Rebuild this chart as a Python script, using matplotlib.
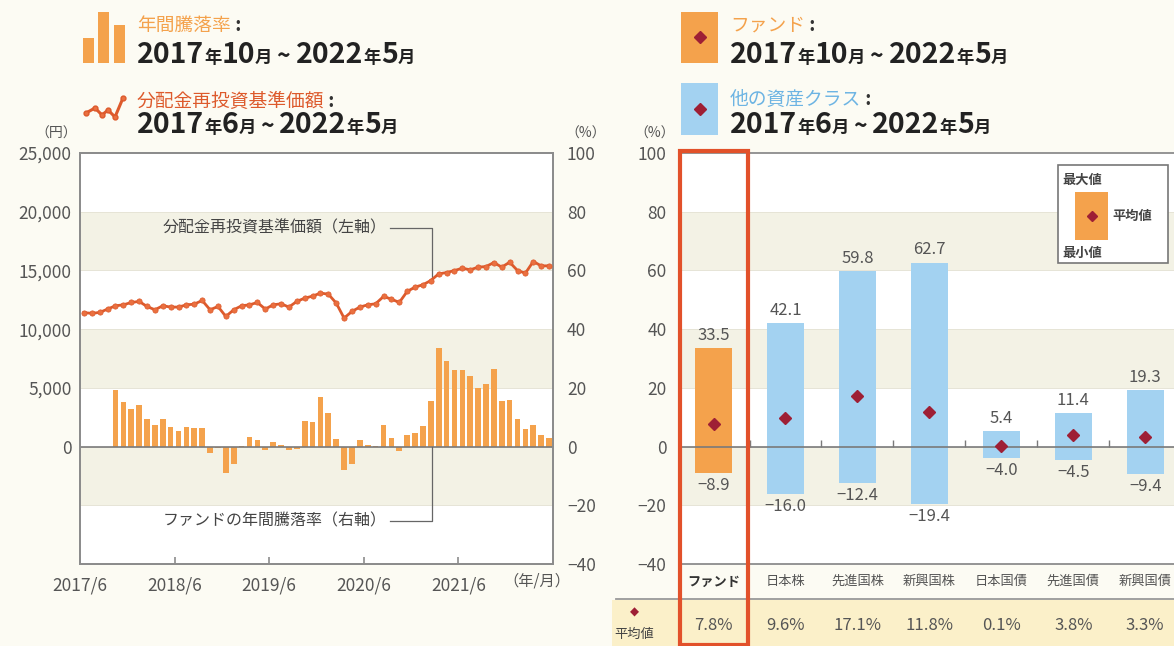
import numpy as np
import matplotlib.pyplot as plt
from matplotlib.patches import Rectangle
from matplotlib.lines import Line2D
import matplotlib.transforms as mtrans

plt.rcParams['font.family'] = ['Noto Sans CJK JP', 'DejaVu Sans']

# ---- データ ----
# 分配金再投資基準価額 (円), 2017/6 ~ 2022/5 の月次
nav = [11400, 11350, 11420, 11710, 11990, 12070, 12270, 12360, 11930, 11650,
       11990, 11880, 11880, 12070, 12130, 12440, 11650, 11930, 11080, 11650,
       11990, 12070, 12270, 11710, 12070, 12160, 11880, 12360, 12640, 12810,
       13070, 12980, 12220, 10940, 11510, 11880, 12070, 12160, 12780, 12560,
       12270, 13210, 13580, 13780, 14140, 14710, 14820, 14990, 15190, 15050,
       15280, 15330, 15670, 15280, 15700, 14990, 14770, 15760, 15390, 15390]
# ファンドの年間騰落率 (%), 2017/10 ~ 2022/5
fund_ret = [19.2, 15.3, 12.9, 14.3, 9.4, 7.5, 9.4, 6.7, 5.2, 6.7, 6.2, 6.2,
            -2.1, -0.6, -8.9, -5.8, 0.2, 3.2, 2.2, -1.0, 1.5, 0.5, -1.2, -0.8, 8.8,
            8.3, 16.8, 11.5, 2.6, -8.0, -5.8, 2.2, 0.5, 0.2, 7.5, 3.0, -1.6, 4.1,
            4.6, 6.9, 15.6, 33.5, 29.0, 26.0, 26.0, 24.1, 20.0, 21.4, 26.4, 15.4,
            16.0, 9.4, 6.1, 7.3, 4.1, 3.0]
year_ticks = ["2017/6", "2018/6", "2019/6", "2020/6", "2021/6"]

# 他の資産クラスとの比較 (%)
classes = ["ファンド", "日本株", "先進国株", "新興国株", "日本国債", "先進国債", "新興国債"]
max_vals = [33.5, 42.1, 59.8, 62.7, 5.4, 11.4, 19.3]
min_vals = [-8.9, -16.0, -12.4, -19.4, -4.0, -4.5, -9.4]
avg_vals = [7.8, 9.6, 17.1, 11.8, 0.1, 3.8, 3.3]

# ---- 色 ----
BG = '#fcfbf3'
BAND = '#f3f2e5'
ORANGE = '#f4a24c'
BLUE = '#a3d2f1'
LINE = '#dd5a2c'
DIAMOND = '#9e1f35'
GRAY = '#555555'
SPINE = '#8c8c8c'
RED = '#e2512a'

W, H = 1174, 646
fig = plt.figure(figsize=(W / 100, H / 100), dpi=100, facecolor=BG)


def fx(px):
    return px / W


def fy(py):
    return 1 - py / H


def rect_px(x0, y0, x1, y1, **kw):
    r = Rectangle((fx(x0), fy(y1)), fx(x1) - fx(x0), fy(y0) - fy(y1),
                  transform=fig.transFigure, **kw)
    fig.add_artist(r)
    return r


renderer = fig.canvas.get_renderer()


def runs(x, y, parts):
    # 文字サイズの違う文字列を横に並べる
    for s, size, color, weight in parts:
        t = fig.text(fx(x), fy(y), s, fontsize=size, color=color,
                     fontweight=weight, ha='left', va='baseline')
        x += t.get_window_extent(renderer).width


def date_parts(y1, m1, y2, m2):
    big, small, c = 20.5, 12.5, '#222222'
    return [(y1, big, c, 'bold'), ("年", small, c, 'bold'), (m1, big, c, 'bold'),
            ("月", small, c, 'bold'), (" ~ ", big * 0.8, c, 'bold'), (y2, big, c, 'bold'),
            ("年", small, c, 'bold'), (m2, big, c, 'bold'), ("月", small, c, 'bold')]


def label_parts(s, color):
    return [(s, 13.5, color, 'normal'), (" :", 13.5, '#333333', 'bold')]


# ---- 左のグラフ ----
ax = fig.add_axes([fx(80), fy(564), fx(553) - fx(80), (564 - 153) / H])
ax2 = ax.twinx()
ax.set_zorder(2)
ax2.set_zorder(1)
ax.patch.set_visible(False)
ax2.patch.set_visible(True)
ax2.set_facecolor('white')

ax.set_xlim(0, 60)
ax.set_ylim(-10000, 25000)
ax2.set_ylim(-40, 100)

for lo, hi in [(60, 80), (20, 40), (-20, 0)]:
    ax2.axhspan(lo, hi, color=BAND, lw=0, zorder=0)
for v in range(-20, 100, 20):
    ax2.axhline(v, color='#e6e4d6', lw=0.7, zorder=0.5)

months = np.arange(len(nav))
bar_x = np.arange(60 - len(fund_ret), 60) + 0.5
ax2.bar(bar_x, fund_ret, width=0.72, color=ORANGE, lw=0, zorder=2)
ax2.axhline(0, color='#7a7a7a', lw=1.2, zorder=3)

ax.plot(months + 0.5, nav, color=LINE, lw=2.0, marker='o', ms=3.8,
        mfc='#ea7040', mec=LINE, mew=0.5, zorder=3)

# 注記
ax.plot([39.3, 44.7, 44.7], [18600, 18600, 14350], color='#666666', lw=0.9)
ax.text(38.9, 18600, "分配金再投資基準価額（左軸）", fontsize=11.5, color='#444444',
        ha='right', va='center')
ax2.plot([39.3, 44.7, 44.7], [-25.5, -25.5, 0], color='#666666', lw=0.9, zorder=4)
ax2.text(38.9, -25.5, "ファンドの年間騰落率（右軸）", fontsize=11.5, color='#444444',
         ha='right', va='center', zorder=4)

ax.set_yticks(range(0, 25001, 5000))
ax.set_yticklabels([f"{v:,}" for v in range(0, 25001, 5000)])
ax2.set_yticks(range(-40, 101, 20))
ax2.set_yticklabels([str(v).replace('-', '−') for v in range(-40, 101, 20)])
ax.set_xticks([0, 12, 24, 36, 48])
ax.set_xticklabels(year_ticks)
ax.tick_params(axis='y', length=0, labelsize=12.5, labelcolor=GRAY, pad=6)
ax2.tick_params(axis='y', length=0, labelsize=12.5, labelcolor=GRAY, pad=10)
ax.tick_params(axis='x', direction='in', length=5, color=SPINE, width=1.2,
               labelsize=12.5, labelcolor=GRAY, pad=9)
for a in (ax, ax2):
    for s in a.spines.values():
        s.set_color(SPINE)
        s.set_linewidth(1.3)

fig.text(fx(537), fy(581), "（年/月）", fontsize=11, color=GRAY, ha='center', va='center')
fig.text(fx(56), fy(134), "（円）", fontsize=10, color=GRAY, ha='center', va='center')
fig.text(fx(586), fy(134), "（%）", fontsize=10, color=GRAY, ha='center', va='center')

# ---- 右のグラフ ----
rax = fig.add_axes([fx(679), fy(564), fx(1174) - fx(679), (564 - 153) / H])
rax.set_facecolor('white')
rax.set_xlim(-0.48, 6.4)
rax.set_ylim(-40, 100)
for lo, hi in [(60, 80), (20, 40), (-20, 0)]:
    rax.axhspan(lo, hi, color=BAND, lw=0, zorder=0)
for v in range(-20, 100, 20):
    rax.axhline(v, color='#e6e4d6', lw=0.7, zorder=0.5)

cx = np.arange(len(classes))
heights = np.array(max_vals) - np.array(min_vals)
rax.bar(cx, heights, bottom=min_vals, width=0.51,
        color=[ORANGE] + [BLUE] * (len(classes) - 1), lw=0, zorder=2)
rax.axhline(0, color='#7a7a7a', lw=1.2, zorder=3)
rax.vlines(cx[:-1] + 0.5, 0, 2.2, color='#7a7a7a', lw=1, zorder=3)
rax.plot(cx, avg_vals, 'D', color=DIAMOND, ms=6, zorder=4)

for xi, mx, mn in zip(cx, max_vals, min_vals):
    rax.annotate(f"{mx:.1f}", (xi, mx), xytext=(0, 3), textcoords='offset points',
                 ha='center', va='bottom', fontsize=12, color=GRAY)
    rax.annotate(f"{mn:.1f}".replace('-', '−'), (xi, mn), xytext=(0, -3),
                 textcoords='offset points', ha='center', va='top', fontsize=12, color=GRAY)

rax.set_xticks(cx)
rax.set_xticklabels(classes)
rax.tick_params(axis='x', length=0, labelsize=9.5, labelcolor=GRAY, pad=8)
rax.get_xticklabels()[0].set_fontweight('bold')
rax.get_xticklabels()[0].set_color('#333333')
rax.set_yticks(range(-40, 101, 20))
rax.set_yticklabels([str(v).replace('-', '−') for v in range(-40, 101, 20)])
rax.tick_params(axis='y', length=0, labelsize=12.5, labelcolor=GRAY, pad=9)
for k, s in rax.spines.items():
    s.set_color(SPINE)
    s.set_linewidth(1.3)
rax.spines['right'].set_visible(False)
fig.text(fx(655), fy(134), "（%）", fontsize=10, color=GRAY, ha='center', va='center')

# 凡例の枠
rect_px(1058, 165, 1168, 263, fc='white', ec='#777777', lw=1.2, zorder=5)
rect_px(1075, 192, 1108, 240, fc=ORANGE, ec='none', zorder=6)
fig.add_artist(Line2D([fx(1091.5)], [fy(216)], marker='D', color=DIAMOND, ms=5.5,
                      transform=fig.transFigure, zorder=7))
fig.text(fx(1062), fy(180), "最大値", fontsize=9.5, color='#444444', fontweight='bold',
         va='center', zorder=7)
fig.text(fx(1112), fy(216), "平均値", fontsize=9.5, color='#444444', fontweight='bold',
         va='center', zorder=7)
fig.text(fx(1062), fy(253), "最小値", fontsize=9.5, color='#444444', fontweight='bold',
         va='center', zorder=7)

# 平均値の表
rect_px(612, 600, 1174, 646, fc='#fbf0c9', ec='none', zorder=1)
fig.add_artist(Line2D([fx(616), fx(1174)], [fy(599), fy(599)], color='#999999', lw=1.3,
                      transform=fig.transFigure))
blend = mtrans.blended_transform_factory(rax.transData, fig.transFigure)
for xi, av in zip(cx, avg_vals):
    fig.text(xi, fy(625), f"{av:.1f}%", transform=blend, fontsize=12, color=GRAY,
             ha='center', va='center', zorder=3)
fig.text(fx(634), fy(612), "◆", fontsize=8.5, color=DIAMOND, ha='center', va='center',
         family=['DejaVu Sans'], zorder=3)
fig.text(fx(634), fy(634), "平均値", fontsize=9.5, color='#444444', ha='center',
         va='center', zorder=3)

# ファンド列の赤枠
red_box = Rectangle((-0.465, fy(646) + 0.002), 0.944, fy(151) - fy(646) - 0.002,
                    transform=blend, fill=False, ec=RED, lw=3, clip_on=False, zorder=10)
fig.add_artist(red_box)

# ---- 上部の凡例 ----
for x0, x1, top in [(83, 94, 38), (98, 109, 12), (114, 125, 25)]:
    rect_px(x0, top, x1, 63, fc=ORANGE, ec='none')
icon_x = [86, 95, 102, 108, 115, 123]
icon_y = [113, 108, 115, 110, 117, 98]
fig.add_artist(Line2D([fx(v) for v in icon_x], [fy(v) for v in icon_y], color=LINE,
                      lw=2.2, marker='o', ms=3.5, mfc='#ea7040', mec=LINE,
                      transform=fig.transFigure))
runs(137, 31, label_parts("年間騰落率", ORANGE))
runs(137, 63, date_parts("2017", "10", "2022", "5"))
runs(137, 107, label_parts("分配金再投資基準価額", LINE))
runs(137, 133, date_parts("2017", "6", "2022", "5"))

rect_px(681, 12, 718, 63, fc=ORANGE, ec='none')
rect_px(681, 83, 718, 135, fc=BLUE, ec='none')
for yy in (37, 109):
    fig.add_artist(Line2D([fx(699.5)], [fy(yy)], marker='D', color=DIAMOND, ms=6,
                          transform=fig.transFigure))
runs(730, 31, label_parts("ファンド", ORANGE))
runs(730, 63, date_parts("2017", "10", "2022", "5"))
runs(730, 105, label_parts("他の資産クラス", '#6db4e3'))
runs(730, 133, date_parts("2017", "6", "2022", "5"))

fig.savefig("out.png", dpi=100, facecolor=BG)
